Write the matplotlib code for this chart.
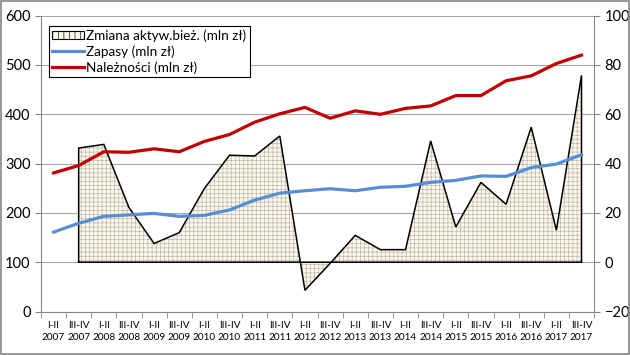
import matplotlib
matplotlib.use("Agg")
import matplotlib.pyplot as plt
from matplotlib.patches import Patch, Rectangle
from matplotlib.lines import Line2D
import numpy as np

plt.rcParams.update({"font.family": ["Lato", "DejaVu Sans"], "font.size": 10,
                     "hatch.linewidth": 0.45})

periods = ["I-II", "III-IV"] * 11
years = [str(y) for y in range(2007, 2018) for _ in range(2)]
labels = [f"{p}\n{y}" for p, y in zip(periods, years)]

# mln zł, left axis
zapasy = [161, 179, 193, 196, 199, 193, 195, 206, 226, 240, 245, 249, 245, 252,
          254, 262, 266, 275, 274, 292, 299, 318]
naleznosci = [281, 296, 324, 323, 330, 324, 345, 359, 384, 401, 414, 392, 407, 400,
              412, 417, 438, 438, 468, 478, 503, 520]
# mln zł, right axis (no value for I-II 2007)
zmiana = [np.nan, 46.3, 47.8, 22.2, 7.6, 12.0, 29.9, 43.4, 43.1, 51.2, -11.4, -0.5,
          10.9, 5.1, 5.1, 49.2, 14.3, 32.4, 23.5, 54.8, 13.0, 75.8]

GRAY = "#868686"
x = np.arange(len(labels))

fig = plt.figure(figsize=(6.3, 3.55), dpi=100)
ax = fig.add_axes([0.065, 0.1225, 0.878, 0.8333])
ax2 = ax.twinx()
ax3 = ax.twinx()

# left axis: scale + grid
ax.set_ylim(0, 600)
ax.set_yticks(range(0, 601, 100))
ax.grid(axis="y", color="#a6a6a6", lw=0.8)
ax.set_axisbelow(True)

# right axis: area of changes
z = np.array(zmiana)
m = ~np.isnan(z)
ax2.fill_between(x[m], 0, z[m], facecolor="#faf7ee", edgecolor="#bcb4a0",
                 hatch="++++", lw=0)
xo = np.concatenate([[x[m][0]], x[m], [x[m][-1], x[m][0]]])
yo = np.concatenate([[0], z[m], [0, 0]])
ax2.plot(xo, yo, color="black", lw=1.1, solid_joinstyle="miter")
ax2.set_ylim(-20, 100)
ax2.set_yticks(range(-20, 101, 20))

# lines on the left scale
ax3.plot(x, zapasy, color="#558ed5", lw=2.3)
ax3.plot(x, naleznosci, color="#c00000", lw=2.3)
ax3.set_ylim(0, 600)
ax3.set_yticks([])

for a in (ax, ax2, ax3):
    a.set_xlim(-0.5, len(labels) - 0.5)
    for s in a.spines.values():
        s.set_visible(False)
ax.spines["left"].set_visible(True)
ax.spines["left"].set_color(GRAY)
ax.spines["bottom"].set_visible(True)
ax.spines["bottom"].set_color(GRAY)
ax2.spines["right"].set_visible(True)
ax2.spines["right"].set_color(GRAY)

ax.set_xticks(x)
ax.set_xticklabels(labels, fontsize=7.2, linespacing=1.35)
ax.set_xticks(np.arange(-0.5, len(labels)), minor=True)
ax.tick_params(axis="x", which="major", length=0, pad=7)
ax.tick_params(axis="x", which="minor", length=4, color=GRAY)
ax.tick_params(axis="y", length=4, color=GRAY, labelsize=10.5)
ax2.tick_params(axis="y", length=4, color=GRAY, labelsize=10.5)

handles = [Patch(facecolor="#faf7ee", edgecolor="black", hatch="|||", lw=0.8,
                 label="Zmiana aktyw.bież. (mln zł)"),
           Line2D([], [], color="#558ed5", lw=2.3, label="Zapasy (mln zł)"),
           Line2D([], [], color="#c00000", lw=2.3, label="Należności (mln zł)")]
leg = ax3.legend(handles=handles, loc="upper left", bbox_to_anchor=(0.014, 0.965),
                 fontsize=9.7, handlelength=2.4, handleheight=0.6, handletextpad=0.15,
                 labelspacing=0.25, borderpad=0.25, borderaxespad=0, fancybox=False,
                 framealpha=1, edgecolor="black")
leg.get_frame().set_linewidth(0.8)

fig.patches.append(Rectangle((0.002, 0.003), 0.996, 0.994, transform=fig.transFigure,
                             fill=False, edgecolor=GRAY, lw=1.2))
fig.savefig("out.png", dpi=100)
